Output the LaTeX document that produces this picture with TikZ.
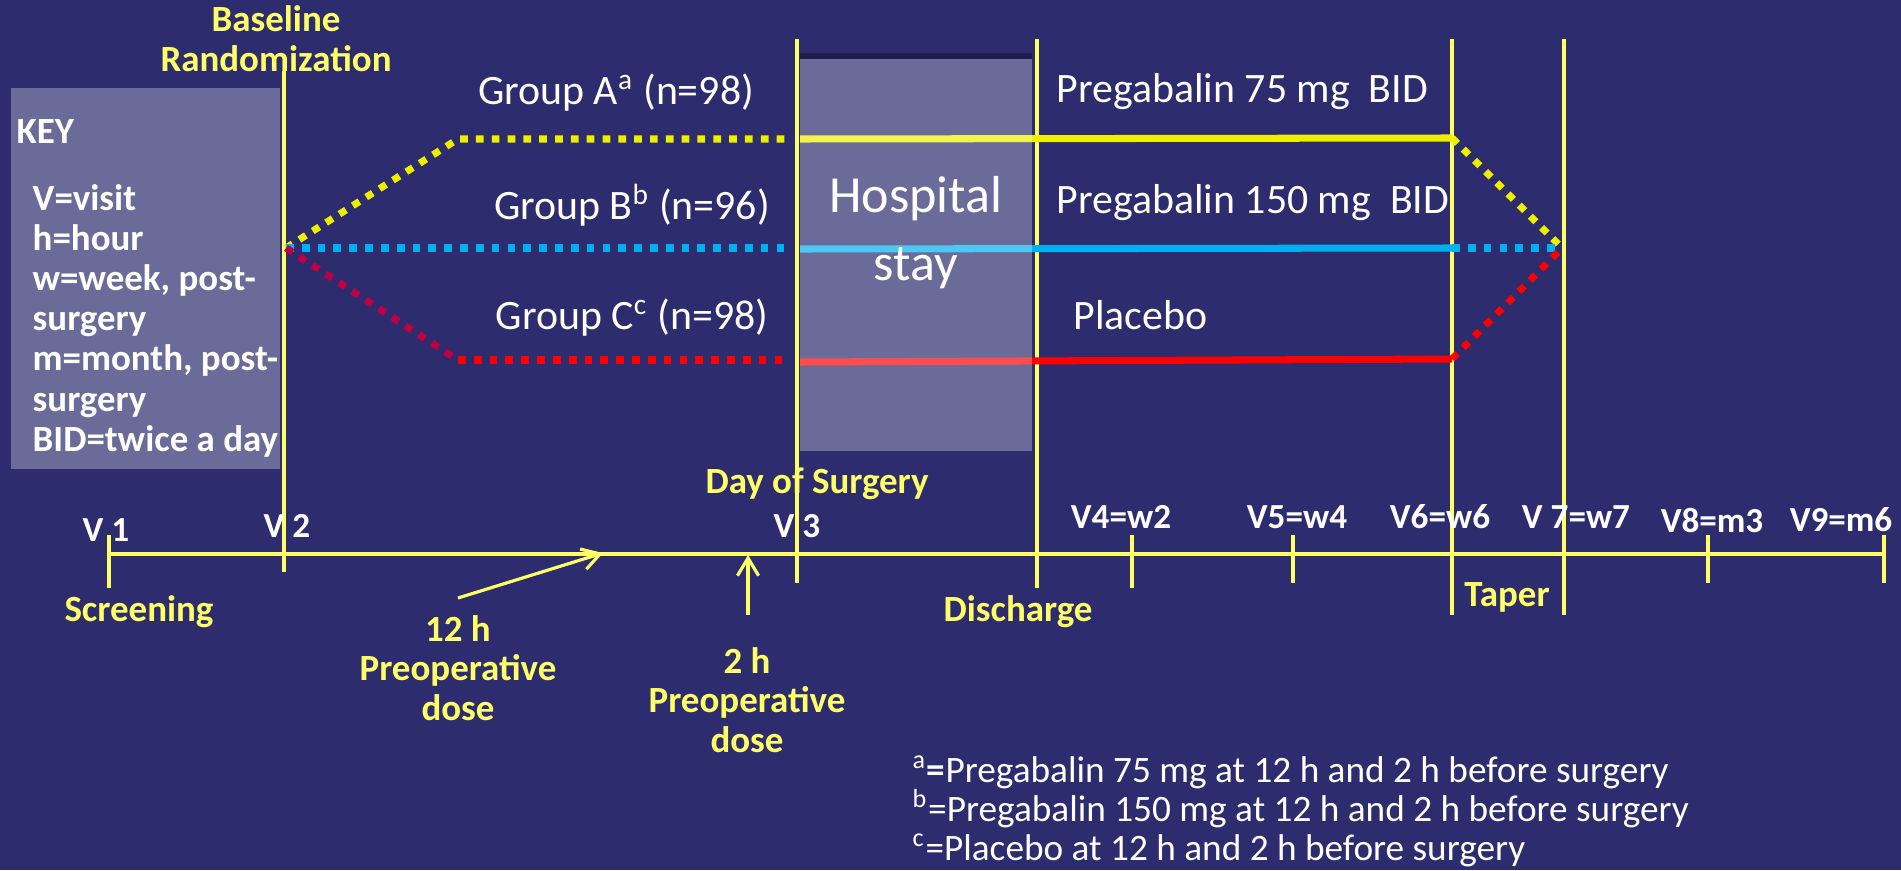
\documentclass[tikz,border=0pt]{standalone}
\usepackage{fontspec}
\setmainfont{Carlito}
\usepackage{xcolor}
\usepackage{tikz}
\usetikzlibrary{arrows.meta, positioning}

\definecolor{bgblue}{RGB}{44,44,110}
\definecolor{lblyellow}{RGB}{255,255,102}
\definecolor{armyellow}{RGB}{238,238,0}
\definecolor{armblue}{RGB}{0,176,240}
\definecolor{armred}{RGB}{255,0,0}
\definecolor{armcrimson}{RGB}{192,0,64}

\begin{document}
\begin{tikzpicture}[
    x=0.01cm, y=-0.01cm,
    >={Straight Barb[length=5pt, width=6pt]},
    panel/.style={fill=white, fill opacity=0.3},
    vline/.style={lblyellow, line width=0.9pt},
    lbl/.style={text=lblyellow, font=\fontsize{10.5}{11.3}\selectfont\bfseries, align=center, inner sep=0pt},
    visit/.style={text=white, font=\fontsize{10}{12}\selectfont\bfseries, inner sep=0pt},
    keytext/.style={text=white, font=\fontsize{10.5}{11.4}\selectfont\bfseries, align=left, inner sep=0pt},
    grp/.style={text=white, font=\fontsize{11.9}{14}\selectfont, inner sep=0pt},
    note/.style={text=white, font=\fontsize{10.6}{11.1}\selectfont, align=left, inner sep=0pt},
    solidarm/.style={line width=2pt},
    dotarm/.style={line width=2pt, dash pattern=on 2.2pt off 2.3pt}
]

\path[use as bounding box, fill=bgblue] (0,0) rectangle (1901,870);

\fill[panel] (11,88) rectangle (280,469);
\node[keytext, anchor=west] (key) at (16,132) {KEY};
\node[keytext, anchor=north west] (keylist) at (32,184) {V=visit\\h=hour\\w=week, post-\\surgery\\m=month, post-\\surgery\\BID=twice a day};

\coordinate (v2top) at (284,71);   \coordinate (v2bot) at (284,572);
\coordinate (v3top) at (797,39);   \coordinate (v3bot) at (797,583);
\coordinate (distop) at (1037,39); \coordinate (disbot) at (1037,588);
\coordinate (v6top) at (1452,39);  \coordinate (v6bot) at (1452,615);
\coordinate (v7top) at (1564,39);  \coordinate (v7bot) at (1564,615);
\draw[vline] (v2top) -- (v2bot);
\draw[vline] (v3top) -- (v3bot);
\draw[vline] (distop) -- (disbot);
\draw[vline] (v6top) -- (v6bot);
\draw[vline] (v7top) -- (v7bot);

\coordinate (split) at (286,248);
\coordinate (aup) at (458,139);
\coordinate (cdown) at (458,360);
\coordinate (ain) at (787,139);   \coordinate (astay) at (800,139);  \coordinate (aend) at (1452,138);
\coordinate (bin) at (787,248);   \coordinate (bstay) at (800,249);  \coordinate (bend) at (1452,248);
\coordinate (cin) at (787,360);   \coordinate (cstay) at (800,362);  \coordinate (cend) at (1452,359);
\coordinate (merge) at (1562,248);

\draw[dotarm, armyellow] (split) -- (aup) -- (ain);
\draw[solidarm, armyellow] (astay) -- (aend);
\draw[dotarm, armyellow] (aend) -- (merge);

\draw[dotarm, armblue] (split) -- (bin);
\draw[solidarm, armblue] (bstay) -- (bend);
\draw[dotarm, armblue] (bend) -- (merge);

\draw[dotarm, armcrimson] (split) -- (cdown);
\draw[dotarm, armred] (cdown) -- (cin);
\draw[solidarm, armred] (cstay) -- (cend);
\draw[dotarm, armred] (cend) -- (merge);

\fill[black, opacity=0.3] (800,53) rectangle (1032,59);
\fill[panel] (800,59) rectangle (1032,451);
\node[text=white, font=\fontsize{14.8}{19.3}\selectfont, align=center] (hospital) at (916,233) {Hospital\\stay};

\node[grp] (groupa) at (616,93) {Group A\textsuperscript{a} (n=98)};
\node[grp] (groupb) at (632,205) {Group B\textsuperscript{b} (n=96)};
\node[grp] (groupc) at (632,318) {Group C\textsuperscript{c} (n=98)};
\node[grp, anchor=west] (dose75) at (1056,92) {Pregabalin 75 mg\ \ BID};
\node[grp, anchor=west] (dose150) at (1056,203) {Pregabalin 150 mg\ \ BID};
\node[grp, anchor=west] (placebo) at (1073,315) {Placebo};

\coordinate (v1) at (109,554);
\coordinate (v9) at (1884,554);
\draw[vline] (v1) -- (v9);
\foreach \x/\top/\bot in {109/535/588, 1132/535/588, 1293/535/583, 1708/535/583, 1884/535/583}
    \draw[vline] (\x,\top) -- (\x,\bot);

\node[visit] (visit1) at (106,530) {V 1};
\node[visit] (visit2) at (287,526) {V 2};
\node[visit] (visit3) at (797,526) {V 3};
\node[visit] (visit4) at (1121,517) {V4=w2};
\node[visit] (visit5) at (1297,517) {V5=w4};
\node[visit] (visit6) at (1440,517) {V6=w6};
\node[visit] (visit7) at (1576,517) {V 7=w7};
\node[visit] (visit8) at (1712,520) {V8=m3};
\node[visit] (visit9) at (1841,520) {V9=m6};

\node[lbl] (baseline) at (276,39) {Baseline\\Randomization};
\node[lbl] (surgeryday) at (817,484) {Day of Surgery};
\node[lbl] (screening) at (139,612) {Screening};
\node[lbl] (dose12) at (458,668) {12 h\\Preoperative\\dose};
\node[lbl] (dose2) at (747,700) {2 h\\Preoperative\\dose};
\node[lbl] (discharge) at (1018,612) {Discharge};
\node[lbl] (taper) at (1507,597) {Taper};

\coordinate (tail12) at (458,598);
\coordinate (tip12) at (603,553);
\coordinate (tail2) at (748,615);
\coordinate (tip2) at (748,555);
\draw[vline, ->] (tail12) -- (tip12);
\draw[vline, ->] (tail2) -- (tip2);

\node[note, anchor=west] (notes) at (912,811) {\textsuperscript{a}\textbf{=}Pregabalin 75 mg at 12 h and 2 h before surgery\\\textsuperscript{b}=Pregabalin 150 mg at 12 h and 2 h before surgery\\\textsuperscript{c}=Placebo at 12 h and 2 h before surgery};

\end{tikzpicture}
\end{document}
